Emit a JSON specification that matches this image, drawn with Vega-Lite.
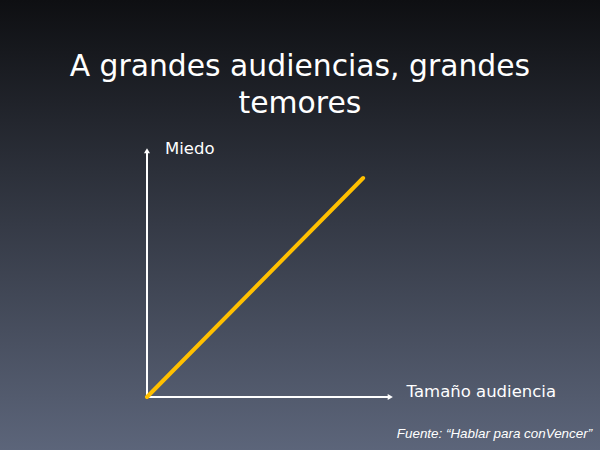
{
  "$schema": "https://vega.github.io/schema/vega-lite/v6.json",
  "width": 600,
  "height": 450,
  "padding": 0,
  "autosize": {"type": "fit", "contains": "padding"},
  "background": "#343a48",
  "config": {
    "view": {
      "stroke": null,
      "fill": {
        "gradient": "linear",
        "x1": 0, "y1": 0, "x2": 0, "y2": 1,
        "stops": [
          {"offset": 0, "color": "#0e0f12"},
          {"offset": 1, "color": "#5c657a"}
        ]
      }
    },
    "text": {"font": "DejaVu Sans", "color": "white"}
  },
  "encoding": {
    "x": {
      "field": "audiencia",
      "type": "quantitative",
      "scale": {"domain": [-5.951, 18.34], "nice": false, "zero": false},
      "axis": null
    },
    "y": {
      "field": "miedo",
      "type": "quantitative",
      "scale": {"domain": [-2.12, 15.88], "nice": false, "zero": false},
      "axis": null
    }
  },
  "layer": [
    {
      "data": {"values": [
        {"eje": "x", "audiencia": 0, "miedo": 0, "audiencia2": 9.8, "miedo2": 0},
        {"eje": "y", "audiencia": 0, "miedo": 0, "audiencia2": 0, "miedo2": 9.8}
      ]},
      "mark": {"type": "rule", "color": "white", "strokeWidth": 2},
      "encoding": {
        "x2": {"field": "audiencia2"},
        "y2": {"field": "miedo2"}
      }
    },
    {
      "data": {"values": [{"audiencia": 9.85, "miedo": 0}]},
      "mark": {"type": "point", "shape": "triangle-right", "filled": true, "color": "white", "opacity": 1, "size": 36}
    },
    {
      "data": {"values": [{"audiencia": 0, "miedo": 9.85}]},
      "mark": {"type": "point", "shape": "triangle-up", "filled": true, "color": "white", "opacity": 1, "size": 36}
    },
    {
      "data": {"values": [
        {"audiencia": 0, "miedo": 0},
        {"audiencia": 8.75, "miedo": 8.76}
      ]},
      "mark": {"type": "line", "color": "#ffc000", "strokeWidth": 4, "strokeCap": "round"}
    },
    {
      "data": {"values": [
        {"texto": "A grandes audiencias, grandes", "audiencia": 6.19, "miedo": 12.84},
        {"texto": "temores", "audiencia": 6.19, "miedo": 11.38}
      ]},
      "mark": {"type": "text", "fontSize": 29.8, "align": "center", "baseline": "alphabetic"},
      "encoding": {"text": {"field": "texto"}}
    },
    {
      "data": {"values": [
        {"texto": "Miedo", "audiencia": 0.73, "miedo": 9.72},
        {"texto": "Tamaño audiencia", "audiencia": 10.51, "miedo": 0.0}
      ]},
      "mark": {"type": "text", "fontSize": 16.5, "align": "left", "baseline": "alphabetic"},
      "encoding": {"text": {"field": "texto"}}
    },
    {
      "data": {"values": [
        {"texto": "Fuente: “Hablar para conVencer”", "audiencia": 18.02, "miedo": -1.64}
      ]},
      "mark": {"type": "text", "font": "Liberation Sans Narrow, Liberation Sans", "fontStyle": "italic", "fontSize": 13.4, "align": "right", "baseline": "alphabetic"},
      "encoding": {"text": {"field": "texto"}}
    }
  ]
}
